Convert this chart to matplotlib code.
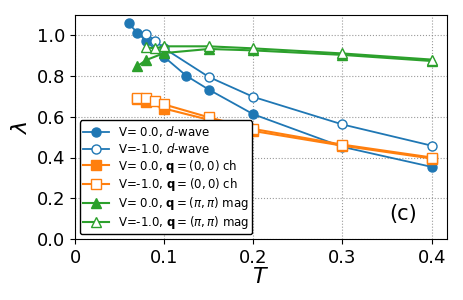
import numpy as np
import matplotlib
matplotlib.use("Agg")
import matplotlib.pyplot as plt

# ------------------------------------------------------------
# Leading eigenvalue lambda vs temperature T
# ------------------------------------------------------------

# d-wave, V = 0.0 (filled) and V = -1.0 (open)
T_d0 = [0.06, 0.07, 0.08, 0.10, 0.125, 0.15, 0.20, 0.30, 0.40]
lam_d0 = [1.057, 1.012, 0.970, 0.893, 0.800, 0.733, 0.612, 0.452, 0.354]
T_d1 = [0.08, 0.09, 0.10, 0.15, 0.20, 0.30, 0.40]
lam_d1 = [1.005, 0.972, 0.935, 0.795, 0.697, 0.562, 0.458]

# q = (0,0) charge
T_c0 = [0.07, 0.08, 0.10, 0.15, 0.20, 0.30, 0.40]
lam_c0 = [0.685, 0.672, 0.640, 0.585, 0.530, 0.458, 0.395]
T_c1 = [0.07, 0.08, 0.09, 0.10, 0.15, 0.20, 0.30, 0.40]
lam_c1 = [0.690, 0.690, 0.675, 0.660, 0.597, 0.540, 0.463, 0.400]

# q = (pi,pi) magnetic
T_m0 = [0.07, 0.08, 0.10, 0.15, 0.20, 0.30, 0.40]
lam_m0 = [0.848, 0.878, 0.912, 0.932, 0.925, 0.903, 0.873]
T_m1 = [0.08, 0.09, 0.10, 0.15, 0.20, 0.30, 0.40]
lam_m1 = [0.940, 0.935, 0.945, 0.945, 0.935, 0.910, 0.880]

blue = "#1f77b4"
orange = "#ff7f0e"
green = "#2ca02c"

fig = plt.figure(figsize=(4.63, 3.0), dpi=100)
ax = fig.add_axes([0.162, 0.203, 0.803, 0.748])

ms = 6.5
ax.plot(T_d0, lam_d0, "o-", color=blue, ms=ms, lw=1.3, label=r"V= 0.0, $d$-wave")
ax.plot(T_d1, lam_d1, "o-", color=blue, ms=ms, lw=1.3, mfc="white",
        label=r"V=-1.0, $d$-wave")
ax.plot(T_c0, lam_c0, "s-", color=orange, ms=ms, lw=1.5,
        label=r"V= 0.0, $\mathbf{q}=(0,0)$ ch")
ax.plot(T_c1, lam_c1, "s-", color=orange, ms=ms, lw=1.5, mfc="white",
        label=r"V=-1.0, $\mathbf{q}=(0,0)$ ch")
ax.plot(T_m0, lam_m0, "^-", color=green, ms=ms, lw=1.5,
        label=r"V= 0.0, $\mathbf{q}=(\pi,\pi)$ mag")
ax.plot(T_m1, lam_m1, "^-", color=green, ms=ms, lw=1.5, mfc="white",
        label=r"V=-1.0, $\mathbf{q}=(\pi,\pi)$ mag")

ax.set_xlim(0, 0.417)
ax.set_ylim(0, 1.1)
ax.set_xticks([0, 0.1, 0.2, 0.3, 0.4])
ax.set_xticklabels(["0", "0.1", "0.2", "0.3", "0.4"])
ax.set_yticks([0, 0.2, 0.4, 0.6, 0.8, 1.0])
ax.tick_params(labelsize=13)
ax.set_xlabel(r"$T$", fontsize=16, labelpad=0)
ax.set_ylabel(r"$\lambda$", fontsize=16)
ax.grid(True, ls=":", color="gray", alpha=0.8)

ax.legend(loc="lower left", fontsize=8.5, framealpha=1, edgecolor="black",
          borderaxespad=0.4, handlelength=2.2, labelspacing=0.15,
          borderpad=0.3, handletextpad=0.7, fancybox=True)
ax.text(0.353, 0.095, "(c)", fontsize=15)

plt.savefig("out.png", dpi=100)
